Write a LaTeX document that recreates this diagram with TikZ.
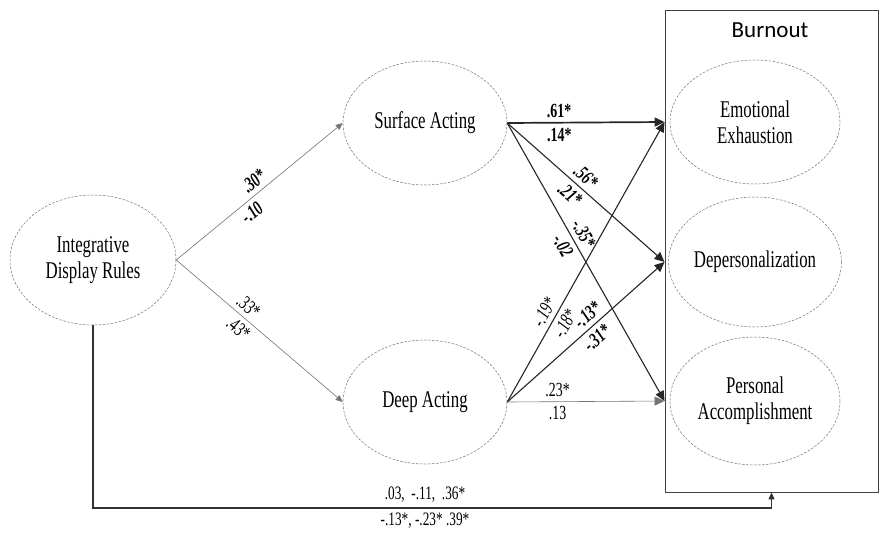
\documentclass[tikz,border=0pt]{standalone}
\usepackage{fontspec}
\setmainfont{Liberation Serif}
\newfontfamily\cond[FakeStretch=0.7]{Liberation Serif}
\newfontfamily\calib{Carlito}
\usetikzlibrary{shapes.geometric,arrows.meta}
\begin{document}
\begin{tikzpicture}[x=1pt,y=-1pt,
  lat/.style={ellipse, draw=black!55, dash pattern=on 2.5pt off 1.5pt, line width=0.5pt, inner sep=0pt, align=center, font=\cond\fontsize{24}{26}\selectfont},
  big/.style={-{Triangle[length=10pt,width=9pt]}},
  small/.style={-{Triangle[length=7pt,width=6pt]}},
  thinpath/.style={draw=black!55, line width=0.6pt},
  midpath/.style={draw=black!85, line width=1.1pt},
  thickpath/.style={draw=black!85, line width=1.7pt},
  lab/.style={font=\cond\fontsize{20}{20}\selectfont, inner sep=4.5pt, sloped},
  bi/.style={font=\cond\fontsize{20}{20}\selectfont\bfseries\itshape},
  bu/.style={font=\cond\fontsize{20}{20}\selectfont\bfseries},
  it/.style={font=\cond\fontsize{20}{20}\selectfont\itshape}
]
\useasboundingbox (0,0) rectangle (882,533);
\fill[white] (0,0) rectangle (882,533);

\node[draw=black!75, line width=0.9pt, minimum width=213pt, minimum height=482pt, inner sep=0pt] (box) at (771.5,251) {};
\node[font=\calib\fontsize{23}{23}\selectfont] (burn) at (770,30) {Burnout};

\node[lat, minimum width=166pt, minimum height=130pt] (IDR) at (93,260) {Integrative\\Display Rules};
\node[lat, minimum width=164pt, minimum height=124pt] (SA) at (425,123) {Surface Acting};
\node[lat, minimum width=164pt, minimum height=124pt] (DA) at (425,402) {Deep Acting};
\node[lat, minimum width=170pt, minimum height=124pt] (EE) at (755,122) {Emotional\\Exhaustion};
\node[lat, minimum width=172pt, minimum height=130pt] (DP) at (755,262) {Depersonalization};
\node[lat, minimum width=170pt, minimum height=128pt] (PA) at (755,401) {Personal\\Accomplishment};

\coordinate (tEE) at (box.west |- EE.west);
\coordinate (tDP) at (box.west |- DP.west);
\coordinate (tPA) at (box.west |- PA.west);

% IDR to acting
\draw[thinpath, small] (IDR.east) -- (SA.west)
  node[lab, bi, pos=0.51, above] {.30*}
  node[lab, bi, pos=0.41, below] {-.10};
\draw[thinpath, small] (IDR.east) -- (DA.west)
  node[lab, pos=0.39, above] {.33*}
  node[lab, pos=0.42, below] {.43*};

% Surface acting
\draw[thickpath, big] (SA.east) -- (tEE)
  node[lab, bu, pos=0.33, above] {.61*}
  node[lab, bu, pos=0.33, below] {.14*};
\draw[midpath, big] (SA.east) -- (tDP)
  node[lab, bi, pos=0.45, above] {.56*}
  node[lab, bi, pos=0.45, below] {.21*};
\draw[midpath, big] (SA.east) -- (tPA)
  node[lab, bi, pos=0.42, above] {-.35*}
  node[lab, bi, pos=0.42, below] {-.02};

% Deep acting
\draw[midpath, big] (DA.east) -- (tEE)
  node[lab, it, pos=0.30, above] {-.19*}
  node[lab, it, pos=0.30, below] {-.18*};
\draw[midpath, big] (DA.east) -- (tDP)
  node[lab, bi, pos=0.56, above] {-.13*}
  node[lab, bi, pos=0.52, below] {-.31*};
\draw[thinpath, big] (DA.east) -- (tPA)
  node[lab, pos=0.32, above] {.23*}
  node[lab, pos=0.32, below] {.13};

% IDR to burnout
\coordinate (c1) at (IDR.south |- 0,508);
\coordinate (c2) at (box.south |- 0,508);
\draw[draw=black!80, line width=1.1pt, small] (IDR.south) -- (c1) -- (c2) -- (box.south);
\node[font=\cond\fontsize{19}{19}\selectfont] (l1) at (425,495) {.03,\ \ -.11,\ \ .36*};
\node[font=\cond\fontsize{19}{19}\selectfont] (l2) at (425,521) {-.13*,\ -.23*\ .39*};
\end{tikzpicture}
\end{document}
